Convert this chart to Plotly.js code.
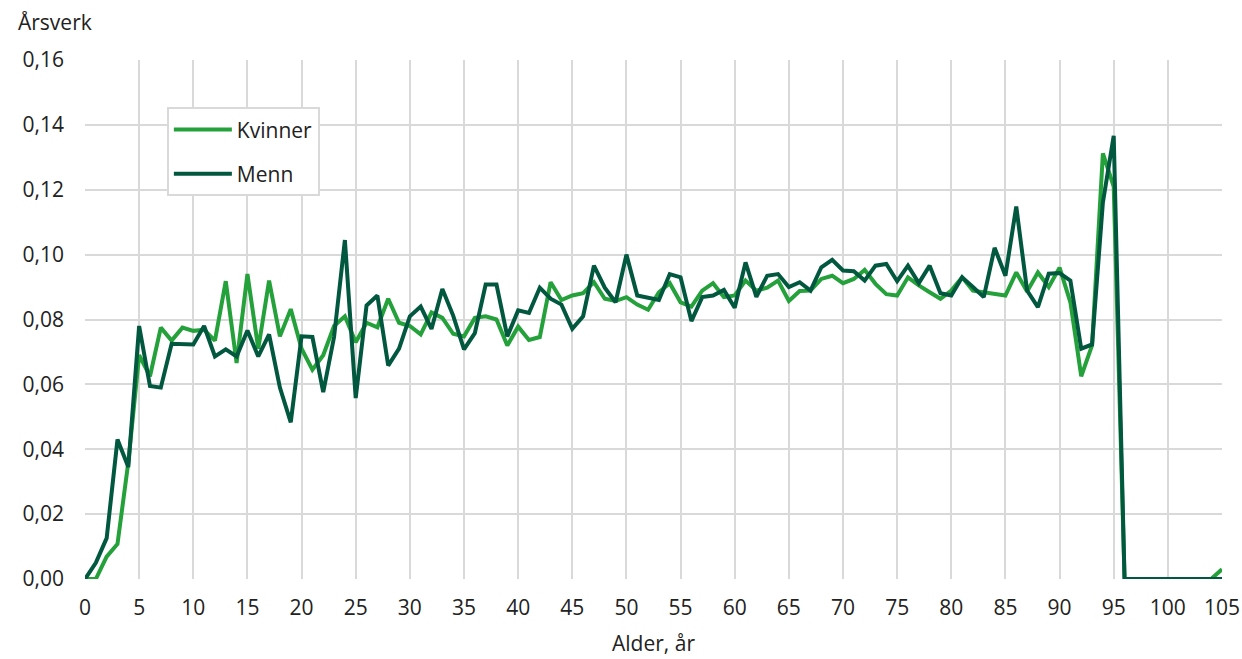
<!DOCTYPE html>
<html>
<head>
<meta charset="utf-8">
<script src="https://cdn.plot.ly/plotly-3.0.1.min.js"></script>
<style>
html,body{margin:0;padding:0;background:#fff;}
#chart{width:1242px;height:659px;}
</style>
</head>
<body>
<div id="chart"></div>
<script>
const ages = Array.from({length: 106}, (_, i) => i);

const kvinner = [
  0, 0, 0.0069, 0.0108, 0.036, 0.069, 0.0625, 0.0775, 0.0735, 0.0775,
  0.0765, 0.0768, 0.0735, 0.0918, 0.0666, 0.094, 0.071, 0.092, 0.0748, 0.0832,
  0.071, 0.0645, 0.069, 0.078, 0.081, 0.073, 0.079, 0.0776, 0.0864, 0.079,
  0.078, 0.0754, 0.0822, 0.0805, 0.0756, 0.0748, 0.0805, 0.081, 0.080, 0.072,
  0.0778, 0.0737, 0.0746, 0.0915, 0.086, 0.0874, 0.0881, 0.0915, 0.0864, 0.0857,
  0.0869, 0.0846, 0.083, 0.0884, 0.0912, 0.0853, 0.084, 0.0889, 0.0912, 0.0869,
  0.0874, 0.092, 0.0889, 0.0898, 0.092, 0.0857, 0.0888, 0.0889, 0.0925, 0.0935,
  0.0912, 0.0925, 0.0953, 0.091, 0.0878, 0.0874, 0.093, 0.0905, 0.0884, 0.0864,
  0.0889, 0.093, 0.0889, 0.0883, 0.0878, 0.0874, 0.0945, 0.0886, 0.0945, 0.090,
  0.096, 0.0853, 0.0625, 0.072, 0.1312, 0.121, 0, 0, 0, 0,
  0, 0, 0, 0, 0, 0.003
];

const menn = [
  0, 0.005, 0.0126, 0.043, 0.0345, 0.078, 0.0595, 0.059, 0.0725, 0.0723,
  0.0723, 0.078, 0.0686, 0.0708, 0.0686, 0.0766, 0.0686, 0.0754, 0.059, 0.0483,
  0.0748, 0.0746, 0.0576, 0.0746, 0.1045, 0.0558, 0.0843, 0.0874, 0.0658, 0.071,
  0.081, 0.084, 0.0771, 0.0894, 0.0812, 0.0708, 0.0758, 0.0908, 0.0908, 0.0748,
  0.0828, 0.082, 0.0898, 0.0864, 0.0846, 0.0771, 0.081, 0.0966, 0.0898, 0.0853,
  0.100, 0.0874, 0.0866, 0.086, 0.094, 0.093, 0.0795, 0.0869, 0.0874, 0.0891,
  0.0836, 0.0976, 0.087, 0.0935, 0.094, 0.090, 0.0915, 0.0889, 0.0961, 0.0984,
  0.0951, 0.0949, 0.092, 0.0966, 0.0971, 0.0918, 0.0966, 0.0912, 0.0966, 0.0881,
  0.0874, 0.093, 0.090, 0.0869, 0.1021, 0.0935, 0.1148, 0.0889, 0.0838, 0.0941,
  0.0943, 0.092, 0.071, 0.0723, 0.1161, 0.1366, 0, 0, 0, 0,
  0, 0, 0, 0, 0, 0
];

const seriesNames = ['Kvinner', 'Menn'];
const seriesColors = ['#24a13a', '#02573f'];
const xTitle = 'Alder, år';
const yTitle = 'Årsverk';

const FONT = '"Open Sans", "Noto Sans", sans-serif';
const FS = 21;
const TXT = '#222222';
const GRID = '#d9d9d9';

const traces = [
  {x: ages, y: kvinner, name: seriesNames[0], type: 'scatter', mode: 'lines',
   line: {color: seriesColors[0], width: 4}, legendgroup: 'k'},
  {x: ages, y: menn, name: seriesNames[1], type: 'scatter', mode: 'lines',
   line: {color: seriesColors[1], width: 4}, legendgroup: 'm'}
];

const layout = {
  width: 1242, height: 659,
  margin: {l: 85, r: 20, t: 60, b: 80},
  paper_bgcolor: '#ffffff', plot_bgcolor: '#ffffff',
  separators: ', ',
  font: {family: FONT, size: FS, color: TXT},
  showlegend: true,
  legend: {
    x: 0.072, y: 0.909, xanchor: 'left', yanchor: 'top',
    bgcolor: '#ffffff', bordercolor: GRID, borderwidth: 2,
    font: {family: FONT, size: FS, color: TXT},
    traceorder: 'grouped', tracegroupgap: 14,
    itemwidth: 58
  },
  xaxis: {
    range: [0, 105], tick0: 0, dtick: 5,
    showgrid: true, gridcolor: GRID, gridwidth: 2,
    zeroline: false, showline: false,
    ticks: '', ticklabelstandoff: 14,
    tickfont: {family: FONT, size: FS, color: TXT},
    title: {text: xTitle, font: {family: FONT, size: FS, color: TXT}, standoff: 16},
    fixedrange: true
  },
  yaxis: {
    range: [0, 0.16], tick0: 0, dtick: 0.02, tickformat: '.2f',
    showgrid: true, gridcolor: GRID, gridwidth: 2,
    zeroline: false, showline: false,
    ticks: '', ticklabelstandoff: 20,
    tickfont: {family: FONT, size: FS, color: TXT},
    fixedrange: true
  },
  annotations: [{
    text: yTitle, xref: 'paper', yref: 'paper',
    x: -0.061, y: 1.073, xanchor: 'left', yanchor: 'middle',
    showarrow: false, font: {family: FONT, size: FS, color: TXT}
  }]
};

Plotly.newPlot('chart', traces, layout, {displayModeBar: false, staticPlot: true});
</script>
</body>
</html>
